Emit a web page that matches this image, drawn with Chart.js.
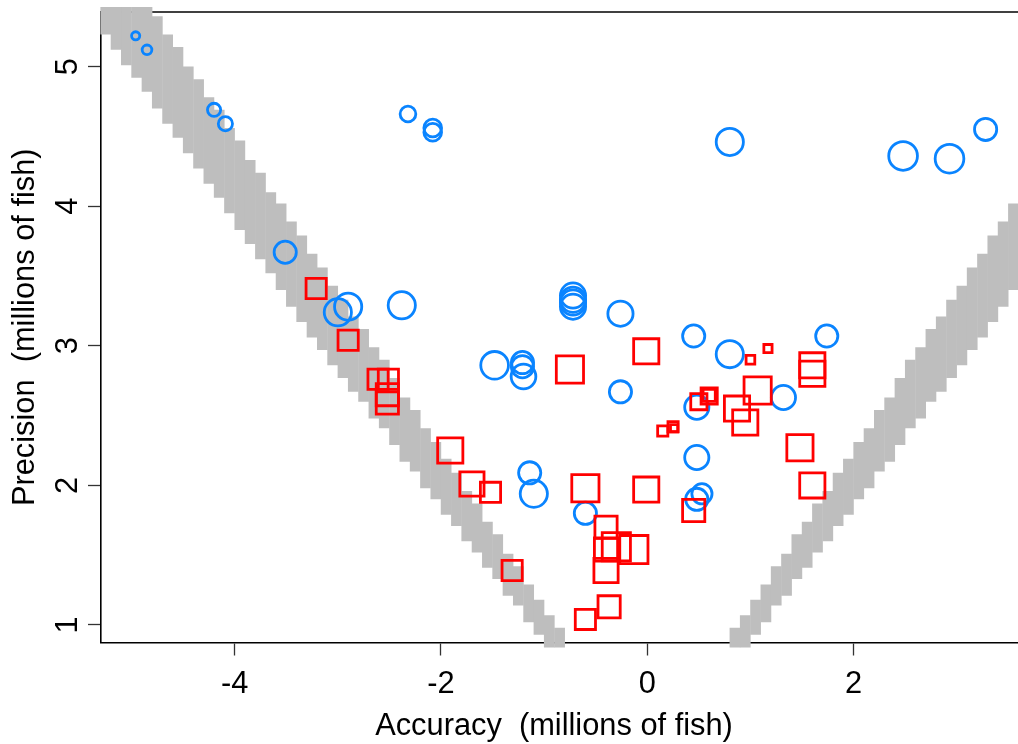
<!DOCTYPE html>
<html>
<head>
<meta charset="utf-8">
<script src="https://cdn.jsdelivr.net/npm/chart.js@4.4.0/dist/chart.umd.min.js"></script>
<style>
  html, body { margin: 0; padding: 0; background: #ffffff; overflow: hidden; }
  canvas { display: block; }
</style>
</head>
<body>
<canvas id="chart" width="1018" height="744"></canvas>
<script>
// ---- axis ticks ----
const xTicks = [-4, -2, 0, 2];
const yTicks = [1, 2, 3, 4, 5];

// ---- blue circles: accuracy, precision, relative symbol size ----
const circleX = [-4.96, -4.85, -4.20, -4.09, -3.51, -2.32, -2.08, -2.08, 0.80, 2.48, 2.93, 3.28,
                 -3.00, -2.90, -2.38, -0.72, -0.72, -0.72, -0.72, -0.26, 0.45, 1.74,
                 -1.48, -1.21, -1.21, -1.20, 0.80, -0.26, 1.32, 0.48, 0.48, -1.14, -1.10, 0.53, 0.48, -0.60];
const circleY = [5.22, 5.12, 4.69, 4.59, 3.67, 4.66, 4.56, 4.53, 4.46, 4.36, 4.34, 4.55,
                 3.24, 3.28, 3.29, 3.36, 3.33, 3.31, 3.28, 3.23, 3.07, 3.07,
                 2.86, 2.88, 2.85, 2.78, 2.94, 2.67, 2.63, 2.56, 2.20, 2.09, 1.94, 1.94, 1.90, 1.80];
const circleW = [1.1, 1.25, 1.6, 1.7, 2.5, 1.85, 2.05, 2.05, 3.0, 3.15, 3.15, 2.5,
                 3.0, 3.0, 3.0, 2.8, 2.8, 2.8, 2.8, 2.8, 2.5, 2.5,
                 3.05, 2.5, 2.5, 2.75, 3.0, 2.5, 2.7, 2.7, 2.7, 2.5, 3.0, 2.3, 2.5, 2.5];

// ---- red squares: accuracy, precision, relative symbol size ----
const squareX = [-3.21, -2.90, -2.61, -2.51, -2.52, -2.52, -1.91, -1.70, -1.52, -1.31,
                 -0.75, -0.01, -0.60, -0.01, -0.40, -0.30, -0.13, -0.40, -0.40, -0.37, -0.60,
                 0.45, 0.15, 0.25, 0.26, 0.50, 0.60, 0.60, 0.87, 0.95, 1.07, 1.00, 1.17,
                 1.60, 1.60, 1.48, 1.60];
const squareY = [3.41, 3.04, 2.76, 2.76, 2.65, 2.59, 2.25, 2.01, 1.95, 1.39,
                 2.83, 2.96, 1.98, 1.97, 1.70, 1.56, 1.54, 1.54, 1.39, 1.13, 1.04,
                 1.82, 2.39, 2.42, 2.41, 2.60, 2.64, 2.645, 2.55, 2.45, 2.68, 2.90, 2.98,
                 2.86, 2.80, 2.27, 2.00];
const squareW = [2.3, 2.3, 2.3, 2.3, 2.5, 2.5, 2.8, 2.7, 2.3, 2.3,
                 3.0, 2.8, 3.0, 2.8, 2.5, 3.1, 3.1, 2.6, 2.7, 2.5, 2.3,
                 2.5, 1.3, 1.3, 1.0, 1.9, 1.9, 1.5, 2.8, 2.8, 3.0, 1.15, 1.1,
                 2.8, 2.8, 2.9, 2.8];

// ---- grey feasibility bands: column centre, lower and upper precision ----
const leftBandX = [-5.25, -5.15, -5.05, -4.95, -4.85, -4.75, -4.65, -4.55, -4.45, -4.35,
                   -4.25, -4.15, -4.05, -3.95, -3.85, -3.75, -3.65, -3.55, -3.45, -3.35,
                   -3.25, -3.15, -3.05, -2.95, -2.85, -2.75, -2.65, -2.55, -2.45, -2.35,
                   -2.25, -2.15, -2.05, -1.95, -1.85, -1.75, -1.65, -1.55, -1.45, -1.35,
                   -1.25, -1.15, -1.05, -0.95, -0.85];
const leftBandLo = [5.23, 5.12, 5.01, 4.92, 4.82, 4.70, 4.59, 4.49, 4.38, 4.27,
                    4.16, 4.06, 3.95, 3.83, 3.73, 3.62, 3.52, 3.40, 3.28, 3.17,
                    3.06, 2.97, 2.86, 2.77, 2.67, 2.60, 2.48, 2.41, 2.29, 2.17,
                    2.10, 1.98, 1.90, 1.79, 1.71, 1.60, 1.52, 1.41, 1.33, 1.21,
                    1.14, 1.02, 0.93, 0.83, 0.76];
const leftBandHi = [5.91, 5.80, 5.68, 5.57, 5.45, 5.36, 5.23, 5.14, 5.00, 4.91,
                    4.78, 4.69, 4.56, 4.47, 4.33, 4.24, 4.10, 4.02, 3.89, 3.79,
                    3.66, 3.56, 3.43, 3.33, 3.21, 3.12, 2.99, 2.90, 2.77, 2.63,
                    2.54, 2.41, 2.31, 2.19, 2.09, 1.96, 1.87, 1.74, 1.65, 1.51,
                    1.42, 1.29, 1.18, 1.07, 0.98];
const rightBandX = [0.85, 0.95, 1.05, 1.15, 1.25, 1.35, 1.45, 1.55, 1.65, 1.75,
                    1.85, 1.95, 2.05, 2.15, 2.25, 2.35, 2.45, 2.55, 2.65, 2.75,
                    2.85, 2.95, 3.05, 3.15, 3.25, 3.35, 3.45, 3.55];
const rightBandLo = [0.76, 0.83, 0.93, 1.02, 1.14, 1.21, 1.33, 1.41, 1.52, 1.60,
                     1.71, 1.79, 1.90, 1.98, 2.10, 2.17, 2.29, 2.41, 2.48, 2.60,
                     2.67, 2.77, 2.86, 2.97, 3.06, 3.17, 3.28, 3.40];
const rightBandHi = [0.98, 1.07, 1.18, 1.29, 1.42, 1.51, 1.65, 1.74, 1.87, 1.96,
                     2.09, 2.19, 2.31, 2.41, 2.54, 2.63, 2.77, 2.90, 2.99, 3.12,
                     3.21, 3.33, 3.43, 3.56, 3.66, 3.79, 3.89, 4.02];

// ---- styling ----
const BLUE = '#0a84ff';
const RED = '#ff0000';
const GREY = '#bebebe';
const INK = '#000000';
const LINE_W = 2.8;          // symbol outline width
const SYMBOL_UNIT = 10;      // px per unit of relative symbol size
const AXIS_W = 1.6;
const FONT = { family: "'Liberation Sans', Arial, Helvetica, sans-serif", size: 30.8 };
const FONT_CSS = `${FONT.size}px ${FONT.family}`;
const X_TITLE = 'Accuracy  (millions of fish)';
const X_TITLE_SHIFT = -5.5;  // nudge of the x title from the axis centre
const X_TITLE_BASE = 9;      // x title baseline above the canvas bottom

const X_RANGE = [-5.296, 3.594];
const Y_RANGE = [0.8746, 5.391];

const points = (xs, ys) => xs.map((x, i) => ({ x, y: ys[i] }));
const columns = (xs, lo, hi) => xs.map((x, i) => ({ x, y: [lo[i], hi[i]] }));

const bandStyle = {
  type: 'bar',
  backgroundColor: GREY,
  borderWidth: 0,
  grouped: false,
  barPercentage: 1.04,
  categoryPercentage: 1,
  clip: { left: 3, top: 5, right: 0, bottom: 5 },
  order: 2
};

// top frame line, drawn beneath the symbols
const frameTop = {
  id: 'frameTop',
  beforeDatasetsDraw(chart) {
    const { ctx, chartArea } = chart;
    ctx.save();
    ctx.strokeStyle = INK;
    ctx.lineWidth = AXIS_W;
    ctx.beginPath();
    ctx.moveTo(chartArea.left - AXIS_W / 2, chartArea.top);
    ctx.lineTo(chart.width, chartArea.top);
    ctx.stroke();
    ctx.restore();
  }
};

// y tick labels written parallel to the axis, and the x axis title
const axisText = {
  id: 'axisText',
  afterDraw(chart) {
    const { ctx, chartArea, scales } = chart;
    ctx.save();
    ctx.font = FONT_CSS;
    ctx.fillStyle = INK;
    ctx.textAlign = 'center';
    ctx.textBaseline = 'middle';
    yTicks.forEach(v => {
      const py = scales.y.getPixelForValue(v);
      ctx.save();
      ctx.translate(chartArea.left - 32.3, py);
      ctx.rotate(-Math.PI / 2);
      ctx.fillText(String(v), 0, 0);
      ctx.restore();
    });
    ctx.textBaseline = 'alphabetic';
    ctx.fillText(X_TITLE, (chartArea.left + chartArea.right) / 2 + X_TITLE_SHIFT, chart.height - X_TITLE_BASE);
    ctx.restore();
  }
};

new Chart(document.getElementById('chart'), {
  type: 'scatter',
  data: {
    datasets: [
      {
        type: 'scatter',
        label: 'squares',
        data: points(squareX, squareY),
        pointStyle: 'rect',
        pointRadius: c => (squareW[c.dataIndex] * SYMBOL_UNIT - LINE_W) / Math.SQRT2,
        pointBorderColor: RED,
        pointBackgroundColor: 'rgba(0,0,0,0)',
        pointBorderWidth: LINE_W,
        showLine: false,
        order: 0
      },
      {
        type: 'scatter',
        label: 'circles',
        data: points(circleX, circleY),
        pointStyle: 'circle',
        pointRadius: c => circleW[c.dataIndex] * SYMBOL_UNIT / 2 - LINE_W / 2,
        pointBorderColor: BLUE,
        pointBackgroundColor: 'rgba(0,0,0,0)',
        pointBorderWidth: LINE_W,
        showLine: false,
        order: 1
      },
      Object.assign({ label: 'left band', data: columns(leftBandX, leftBandLo, leftBandHi) }, bandStyle),
      Object.assign({ label: 'right band', data: columns(rightBandX, rightBandLo, rightBandHi) }, bandStyle)
    ]
  },
  options: {
    responsive: false,
    animation: false,
    devicePixelRatio: 1,
    events: [],
    layout: { autoPadding: false, padding: { top: 12, right: 0, bottom: 0, left: 0 } },
    plugins: { legend: { display: false }, tooltip: { enabled: false } },
    scales: {
      x: {
        type: 'linear',
        min: X_RANGE[0],
        max: X_RANGE[1],
        offset: false,
        afterBuildTicks: s => { s.ticks = xTicks.map(v => ({ value: v })); },
        afterFit: s => { s.height = 101.5; },
        border: { display: true, color: INK, width: AXIS_W },
        grid: { display: true, offset: false, drawOnChartArea: false, drawTicks: true,
                tickLength: 13, tickColor: '#333333', tickWidth: 1.3 },
        ticks: { color: INK, font: FONT, padding: 11, autoSkip: false, maxRotation: 0, minRotation: 0,
                 callback: v => String(v) },
        title: { display: false }
      },
      y: {
        type: 'linear',
        min: Y_RANGE[0],
        max: Y_RANGE[1],
        beginAtZero: false,
        offset: false,
        afterBuildTicks: s => { s.ticks = yTicks.map(v => ({ value: v })); },
        afterFit: s => { s.width = 101; },
        border: { display: true, color: INK, width: AXIS_W },
        grid: { display: true, offset: false, drawOnChartArea: false, drawTicks: true,
                tickLength: 13, tickColor: '#333333', tickWidth: 1.3 },
        ticks: { display: false },
        title: { display: true, text: 'Precision  (millions of fish)', color: INK, font: FONT,
                 padding: { top: 7.5, bottom: 0 } }
      }
    }
  },
  plugins: [frameTop, axisText]
});
</script>
</body>
</html>
